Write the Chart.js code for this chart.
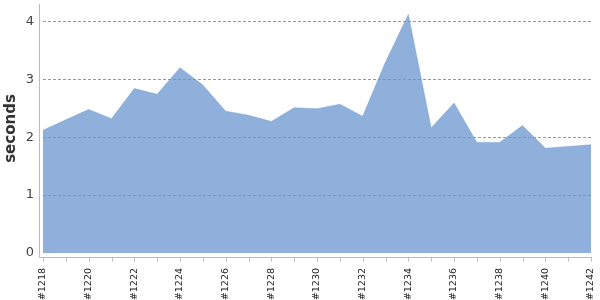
<!DOCTYPE html>
<html>
<head>
<meta charset="utf-8">
<script src="https://cdn.jsdelivr.net/npm/chart.js@4.4.0/dist/chart.umd.min.js"></script>
<style>
  body { margin: 0; background: #fff; }
  #wrap { width: 600px; height: 300px; }
</style>
</head>
<body>
<div id="wrap"><canvas id="myChart" width="600" height="300"></canvas></div>
<script>
// build labels #1218 .. #1242
var builds = ['#1218', '#1219', '#1220', '#1221', '#1222', '#1223', '#1224', '#1225', '#1226',
    '#1227', '#1228', '#1229', '#1230', '#1231', '#1232', '#1233', '#1234', '#1235', '#1236',
    '#1237', '#1238', '#1239', '#1240', '#1241', '#1242'];

// duration in seconds
var seconds = [2.12, 2.30, 2.48, 2.32, 2.84, 2.74, 3.20, 2.90, 2.45, 2.38, 2.27, 2.51, 2.49,
    2.57, 2.36, 3.30, 4.12, 2.16, 2.59, 1.91, 1.91, 2.20, 1.81, 1.84, 1.87];

// y tick values
var yTicks = [0, 1, 2, 3, 4];

// axis lines sit a few pixels outside the plot area, draw them by hand
var axisLines = {
    id: 'axisLines',
    afterDraw: function (chart) {
        var ctx = chart.ctx;
        var area = chart.chartArea;
        var x = chart.scales.x;
        ctx.save();
        ctx.strokeStyle = '#bbbbbb';
        ctx.lineWidth = 1;
        ctx.beginPath();
        ctx.moveTo(area.left - 3.5, area.top);
        ctx.lineTo(area.left - 3.5, area.bottom + 4.5);
        ctx.lineTo(area.right + 1, area.bottom + 4.5);
        // small tick mark under every build
        for (var i = 0; i < builds.length; i++) {
            var px = Math.round(x.getPixelForValue(i)) + 0.5;
            ctx.moveTo(px, area.bottom + 4.5);
            ctx.lineTo(px, area.bottom + 8.5);
        }
        ctx.stroke();
        ctx.restore();
    }
};

var ctx = document.getElementById('myChart').getContext('2d');
var chart = new Chart(ctx, {
    type: 'line',
    data: {
        labels: builds,
        datasets: [{
            data: seconds,
            fill: 'origin',
            backgroundColor: 'rgba(104, 150, 206, 0.75)',
            borderColor: 'rgba(104, 150, 206, 0.4)',
            borderWidth: 1,
            pointRadius: 0,
            tension: 0
        }]
    },
    options: {
        responsive: false,
        animation: false,
        layout: { padding: { top: 4, right: 9, bottom: 0, left: 2 } },
        plugins: {
            legend: { display: false },
            tooltip: { enabled: false }
        },
        scales: {
            x: {
                offset: false,
                border: { display: false },
                grid: { display: false },
                afterFit: function (scale) {
                    scale.height = 47;
                    scale.paddingLeft = 0;
                    scale.paddingRight = 0;
                },
                ticks: {
                    autoSkip: false,
                    maxRotation: 90,
                    minRotation: 90,
                    padding: 7,
                    color: '#222',
                    font: { family: 'DejaVu Sans', size: 9.5 },
                    callback: function (value, index) {
                        return index % 2 === 0 ? builds[index] : '';
                    }
                }
            },
            y: {
                min: 0,
                max: 4.3,
                border: { display: false, dash: [3, 2] },
                grid: {
                    color: function (c) {
                        return c.tick && c.tick.value === 0 ? 'rgba(0,0,0,0)' : '#999';
                    },
                    drawTicks: false
                },
                afterBuildTicks: function (scale) {
                    scale.ticks = yTicks.map(function (v) { return { value: v }; });
                },
                afterFit: function (scale) {
                    scale.width = 41;
                    scale.paddingTop = 0;
                    scale.paddingBottom = 0;
                },
                ticks: {
                    padding: 9,
                    color: '#444',
                    font: { family: 'DejaVu Sans', size: 13 }
                },
                title: {
                    display: true,
                    text: 'seconds',
                    color: '#333',
                    padding: { top: 0, bottom: 4 },
                    font: { family: 'DejaVu Sans', size: 15, weight: 'bold' }
                }
            }
        }
    },
    plugins: [axisLines]
});
</script>
</body>
</html>
